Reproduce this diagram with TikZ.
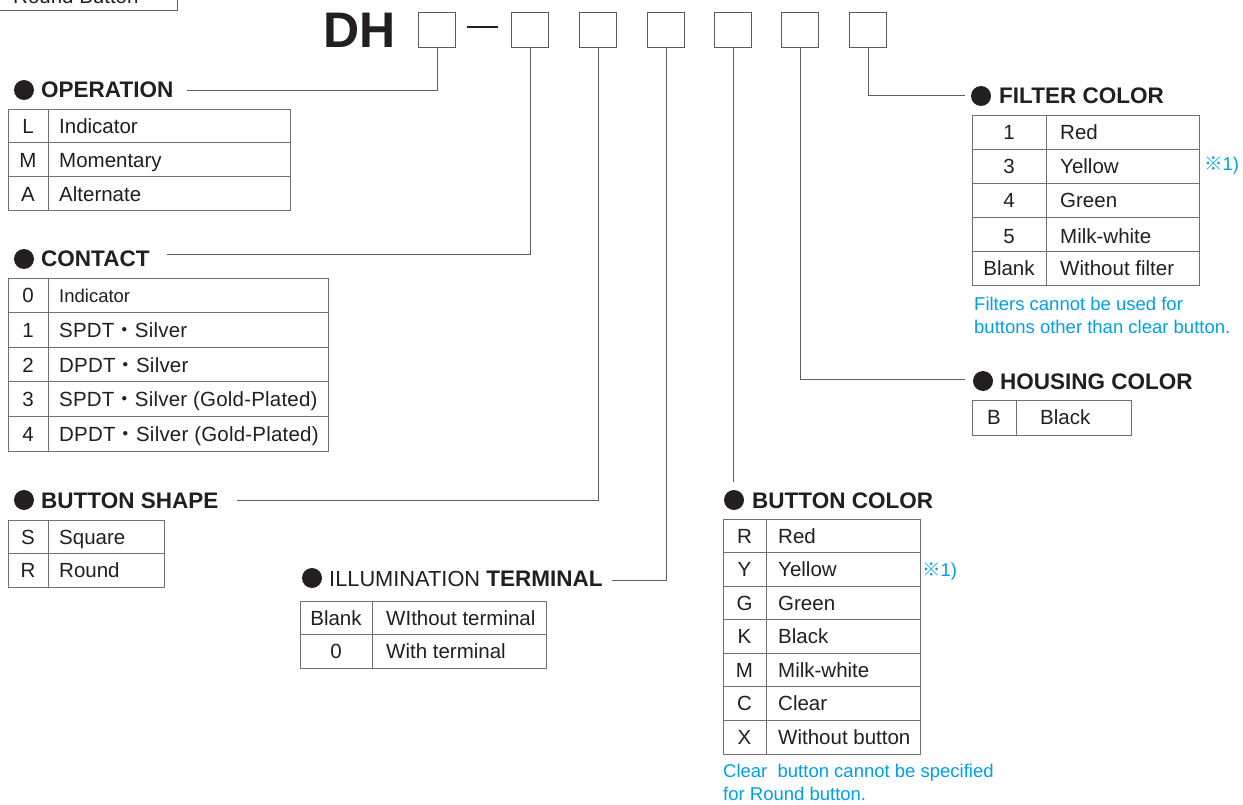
\documentclass[tikz,border=0pt]{standalone}
\usepackage{fontspec}
\setmainfont{Liberation Sans}
\newfontfamily\cjk{Noto Sans CJK JP}
\definecolor{ink}{HTML}{231F20}
\definecolor{notec}{HTML}{00A0E9}
\definecolor{rulec}{HTML}{707070}
\newcommand{\mdot}{{\cjk ・}}
\tikzset{
  tbl/.style={draw=rulec, line width=0.9pt},
  conn/.style={draw=rulec!85!black, line width=0.9pt},
  codebox/.style={draw=rulec!80!black, line width=0.9pt, minimum width=37pt, minimum height=35pt, inner sep=0},
  cellc/.style={anchor=base, inner sep=0, text=ink, font=\fontsize{20.5}{24}\selectfont},
  celll/.style={cellc, anchor=base west},
  spaced/.style={font=\fontsize{20.5}{24}\selectfont\addfontfeature{LetterSpace=1}},
  headt/.style={anchor=base west, inner sep=0, text=ink, font=\fontsize{22.5}{26}\selectfont\bfseries},
  bul/.style={circle, fill=ink, minimum size=20pt, inner sep=0},
  notet/.style={anchor=base west, inner sep=0, text=notec, font=\fontsize{18.5}{22}\selectfont},
}
% table frame: x1, xdiv, x2, ytop, row height, rows
\newcommand{\frametab}[6]{%
  \foreach \i in {1,...,#6}{%
    \draw[tbl] (#1,{#4+(\i-1)*#5}) rectangle (#3,{#4+\i*#5});}
  \draw[tbl] (#2,#4) -- (#2,{#4+#6*#5});}
\begin{document}
\begin{tikzpicture}[x=1pt,y=-1pt]
\useasboundingbox (0,0) rectangle (1243,805);
\clip (0,0) rectangle (1243,805);
\fill[white] (0,0) rectangle (1243,805);

% cut-off box at top left
\draw[conn] (-2,-30) rectangle (177,10);
\node[anchor=base west, inner sep=0, text=ink, font=\fontsize{20.5}{24}\selectfont] (rb) at (13,4) {Round Button};

% model code
\node[anchor=base west, inner sep=0, text=ink, font=\fontsize{50}{56}\selectfont\bfseries] (dh) at (323,48) {DH};
\node[codebox] (b1) at (437,29.5) {};
\draw[ink, line width=2.4pt] (467,27) -- (498,27);
\node[codebox] (b2) at (530,29.5) {};
\node[codebox] (b3) at (598,29.5) {};
\node[codebox] (b4) at (666,29.5) {};
\node[codebox] (b5) at (733,29.5) {};
\node[codebox] (b6) at (800,29.5) {};
\node[codebox] (b7) at (868,29.5) {};

% ---------- OPERATION
\node[bul] (opb) at (24,90) {};
\node[headt] (oph) at (41,98) {OPERATION};
\coordinate (opl) at (187,90);
\draw[conn] (b1.south) |- (opl);
\frametab{8}{48}{290}{109}{33.67}{3}
\node[cellc] (op1c) at (28,134) {L};
\node[celll] (op1d) at (59,134) {Indicator};
\node[cellc] (op2c) at (28,168) {M};
\node[celll] (op2d) at (59,168) {Momentary};
\node[cellc] (op3c) at (28,201.5) {A};
\node[celll] (op3d) at (59,201.5) {Alternate};

% ---------- CONTACT
\node[bul] (cob) at (24,259) {};
\node[headt] (coh) at (41,267) {CONTACT};
\coordinate (col) at (167,254);
\draw[conn] (b2.south) |- (col);
\frametab{8}{48}{328}{278}{34.6}{5}
\node[cellc] (co0c) at (28,302.5) {0};
\node[celll, font=\fontsize{18.5}{22}\selectfont] (co0d) at (59,302.5) {Indicator};
\node[cellc] (co1c) at (28,337.5) {1};
\node[celll, spaced] (co1d) at (59,337.5) {SPDT\mdot Silver};
\node[cellc] (co2c) at (28,372) {2};
\node[celll, spaced] (co2d) at (59,372) {DPDT\mdot Silver};
\node[cellc] (co3c) at (28,406.5) {3};
\node[celll, spaced] (co3d) at (59,406.5) {SPDT\mdot Silver (Gold-Plated)};
\node[cellc] (co4c) at (28,441) {4};
\node[celll, spaced] (co4d) at (59,441) {DPDT\mdot Silver (Gold-Plated)};

% ---------- BUTTON SHAPE
\node[bul] (bsb) at (24,500) {};
\node[headt] (bsh) at (41,508) {BUTTON SHAPE};
\coordinate (bsl) at (237,500);
\draw[conn] (b3.south) |- (bsl);
\frametab{8}{48}{164}{520}{33.5}{2}
\node[cellc] (bs1c) at (28,544) {S};
\node[celll] (bs1d) at (59,544) {Square};
\node[cellc] (bs2c) at (28,577.5) {R};
\node[celll] (bs2d) at (59,577.5) {Round};

% ---------- ILLUMINATION TERMINAL
\node[bul] (ilb) at (312,578) {};
\node[headt] (ilh) at (329,586) {{\mdseries\fontsize{21.8}{26}\selectfont ILLUMINATION} TERMINAL};
\coordinate (ill) at (612,580);
\draw[conn] (b4.south) |- (ill);
\frametab{300}{372}{546}{601}{33.5}{2}
\node[cellc] (il1c) at (336,625) {Blank};
\node[celll] (il1d) at (386,625) {WIthout terminal};
\node[cellc] (il2c) at (336,658.5) {0};
\node[celll] (il2d) at (386,658.5) {With terminal};

% ---------- BUTTON COLOR
\coordinate (bcl) at (735,482);
\draw[conn] (b5.south) -- (b5.south |- bcl);
\node[bul] (bcb) at (734,500) {};
\node[headt] (bch) at (752,508) {BUTTON COLOR};
\frametab{723}{766}{920}{519}{33.57}{7}
\node[cellc] (bc1c) at (744.5,543.1) {R};
\node[celll] (bc1d) at (778,543.1) {Red};
\node[cellc] (bc2c) at (744.5,576.6) {Y};
\node[celll] (bc2d) at (778,576.6) {Yellow};
\node[cellc] (bc3c) at (744.5,610.2) {G};
\node[celll] (bc3d) at (778,610.2) {Green};
\node[cellc] (bc4c) at (744.5,643.8) {K};
\node[celll] (bc4d) at (778,643.8) {Black};
\node[cellc] (bc5c) at (744.5,677.4) {M};
\node[celll] (bc5d) at (778,677.4) {Milk-white};
\node[cellc] (bc6c) at (744.5,710.9) {C};
\node[celll] (bc6d) at (778,710.9) {Clear};
\node[cellc] (bc7c) at (744.5,744.5) {X};
\node[celll] (bc7d) at (778,744.5) {Without button};
\node[notet] (bcm) at (922,576.6) {{\cjk ※}1)};
\node[notet] (bcn1) at (723,777) {Clear\ \ button cannot be specified};
\node[notet] (bcn2) at (723,800) {for Round button.};

% ---------- FILTER COLOR
\coordinate (fcl) at (965,95);
\draw[conn] (b7.south) |- (fcl);
\node[bul] (fcb) at (981,96) {};
\node[headt] (fch) at (999,104) {FILTER COLOR};
\frametab{972}{1046}{1199}{115}{34}{5}
\node[cellc] (fc1c) at (1009,139.5) {1};
\node[celll] (fc1d) at (1060,139.5) {Red};
\node[cellc] (fc2c) at (1009,173.5) {3};
\node[celll] (fc2d) at (1060,173.5) {Yellow};
\node[cellc] (fc3c) at (1009,207.5) {4};
\node[celll] (fc3d) at (1060,207.5) {Green};
\node[cellc] (fc4c) at (1009,243.5) {5};
\node[celll] (fc4d) at (1060,243.5) {Milk-white};
\node[cellc] (fc5c) at (1009,275.5) {Blank};
\node[celll] (fc5d) at (1060,275.5) {Without filter};
\node[notet] (fcm) at (1204,171) {{\cjk ※}1)};
\node[notet] (fcn1) at (974,310) {Filters cannot be used for};
\node[notet] (fcn2) at (974,333) {buttons other than clear button.};

% ---------- HOUSING COLOR
\coordinate (hcl) at (965,379);
\draw[conn] (b6.south) |- (hcl);
\node[bul] (hcb) at (983,381) {};
\node[headt] (hch) at (1000,389) {HOUSING COLOR};
\frametab{972}{1016}{1131}{400}{35}{1}
\node[cellc] (hc1c) at (994,424.5) {B};
\node[celll] (hc1d) at (1040,424.5) {Black};
\end{tikzpicture}
\end{document}
